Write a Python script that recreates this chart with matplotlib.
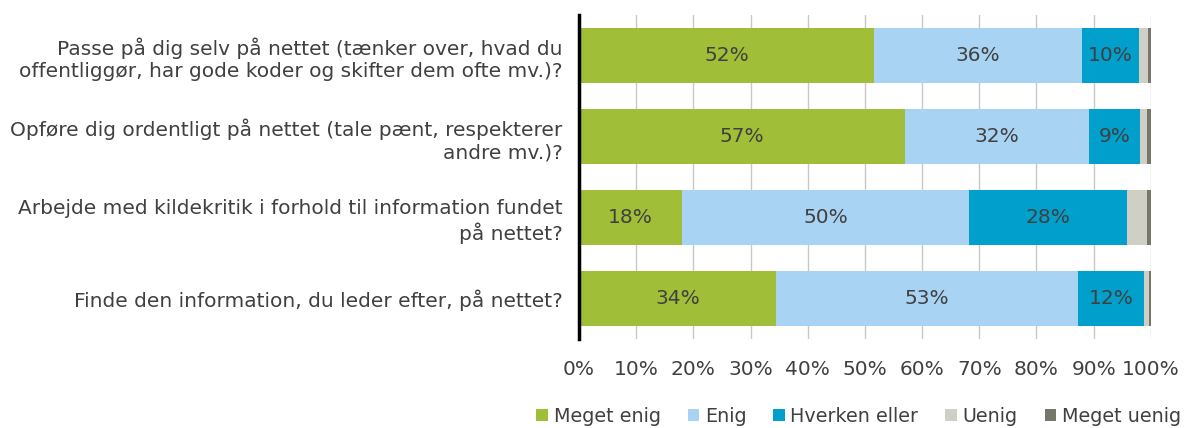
import numpy as np
import matplotlib.pyplot as plt

questions = [
    "Passe på dig selv på nettet (tænker over, hvad du\noffentliggør, har gode koder og skifter dem ofte mv.)?",
    "Opføre dig ordentligt på nettet (tale pænt, respekterer\nandre mv.)?",
    "Arbejde med kildekritik i forhold til information fundet\npå nettet?",
    "Finde den information, du leder efter, på nettet?",
]
categories = ["Meget enig", "Enig", "Hverken eller", "Uenig", "Meget uenig"]
meget_enig = [51.6, 57.0, 18.0, 34.4]
enig = [36.3, 32.2, 50.2, 52.8]
hverken = [10.0, 8.9, 27.7, 11.6]
uenig = [1.6, 1.2, 3.5, 0.85]
meget_uenig = [0.5, 0.7, 0.6, 0.35]
colors = ["#a0be38", "#a9d3f3", "#009fcc", "#d0cfc6", "#76766a"]

series = [meget_enig, enig, hverken, uenig, meget_uenig]
fs = 14.5

fig, ax = plt.subplots(figsize=(11.84, 4.28), dpi=100)
fig.subplots_adjust(left=0.489, right=0.972, top=0.965, bottom=0.208)

y = np.arange(len(questions))
left = np.zeros(len(questions))
for vals, name, c in zip(series, categories, colors):
    vals = np.array(vals)
    ax.barh(y, vals, left=left, height=0.68, color=c, label=name, zorder=3)
    for yi, (l, v) in enumerate(zip(left, vals)):
        if v >= 5:
            ax.text(l + v / 2, yi, f"{v:.0f}%", ha="center", va="center",
                    fontsize=fs, color="#404040", zorder=4)
    left += vals

ax.set_xlim(0, 100)
ax.set_ylim(3.5, -0.5)
ax.set_xticks(np.arange(0, 101, 10))
ax.set_xticklabels([f"{t}%" for t in range(0, 101, 10)])
ax.set_yticks(y)
ax.set_yticklabels(questions, fontsize=fs, color="#404040", linespacing=1.25)
ax.tick_params(axis="x", labelsize=fs, labelcolor="#404040", length=0, pad=15)
ax.tick_params(axis="y", length=0, pad=12)
ax.xaxis.grid(True, color="#c8c8c8", linewidth=1, zorder=0)
for s in ["top", "right", "bottom"]:
    ax.spines[s].set_visible(False)
ax.spines["left"].set_linewidth(2.5)
ax.spines["left"].set_color("black")
ax.spines["left"].set_zorder(5)

for lbl in ax.get_yticklabels():
    lbl.set_multialignment("right")

ax.legend(loc="lower right", bbox_to_anchor=(0.999, 0.0), ncol=5,
          frameon=False, fontsize=13.8, labelcolor="#404040", handlelength=0.6,
          handleheight=0.6, handletextpad=0.3, columnspacing=1.4,
          borderaxespad=0, borderpad=0.1, bbox_transform=fig.transFigure)

fig.savefig("out.png")
